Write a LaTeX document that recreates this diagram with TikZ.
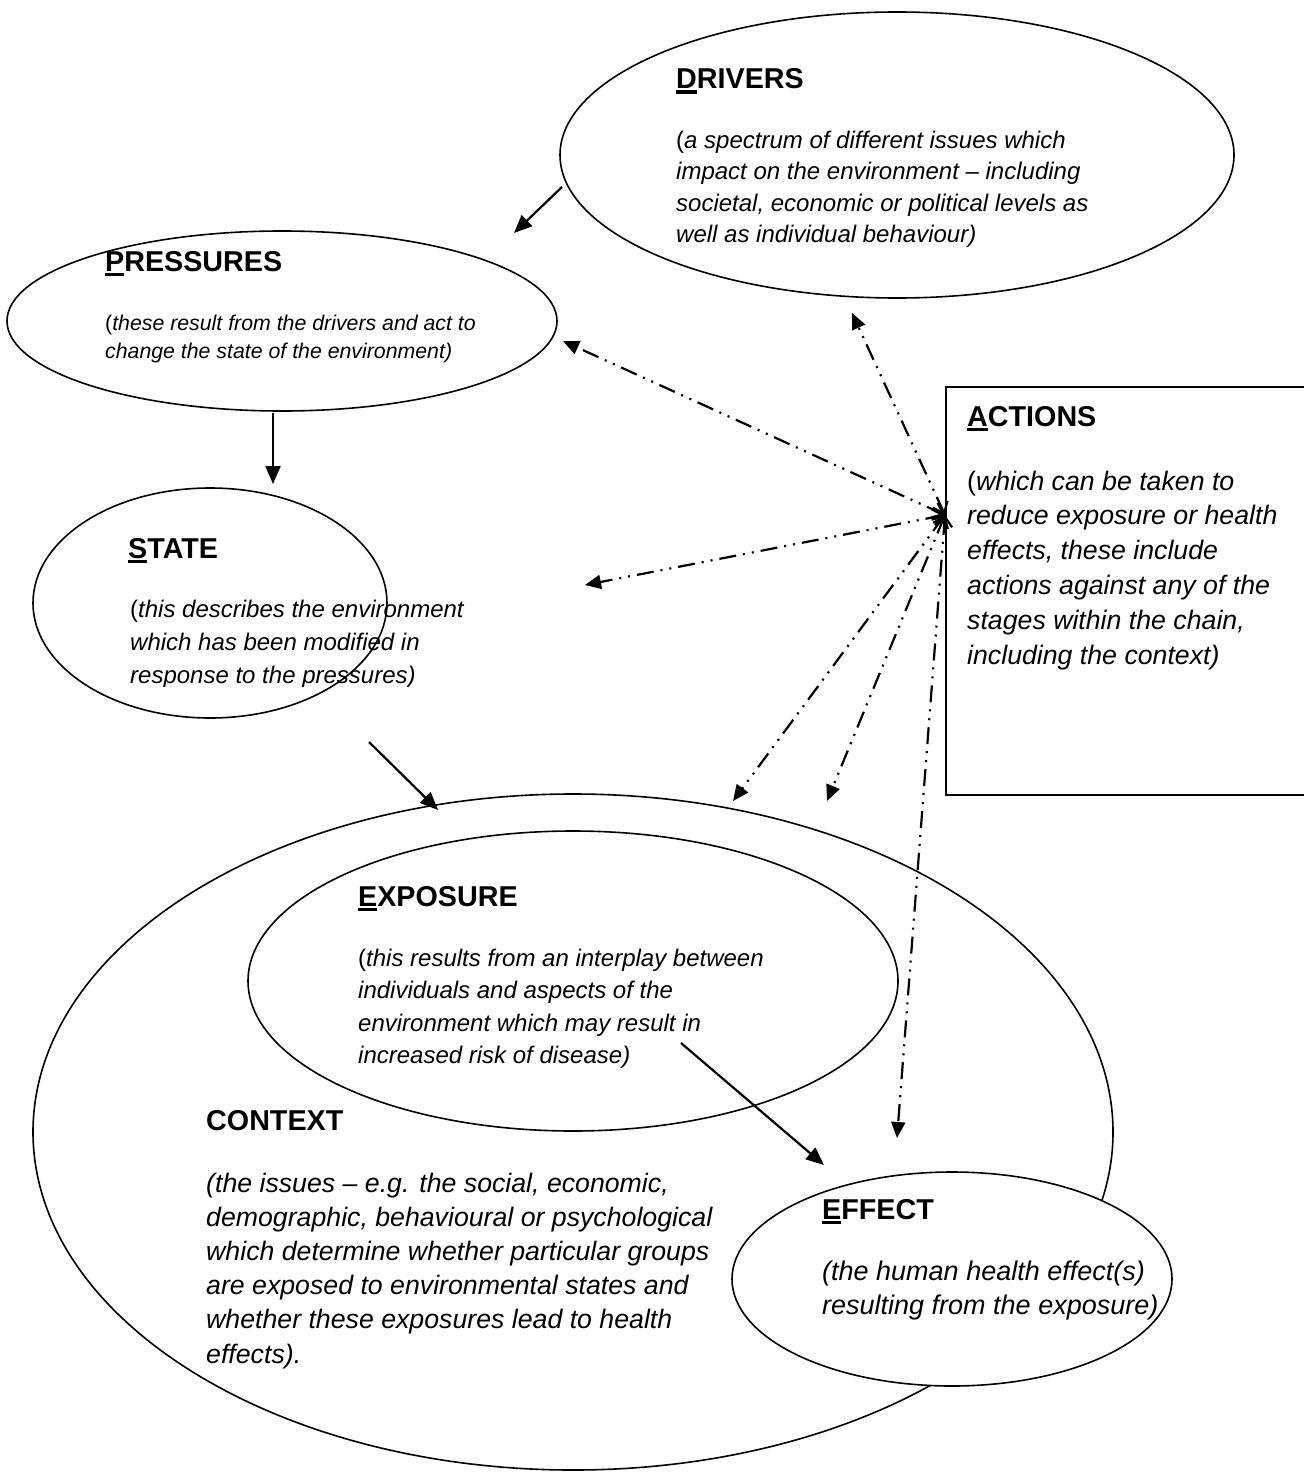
\documentclass[tikz,border=0pt]{standalone}
\usepackage{fontspec}
\setmainfont{Liberation Sans}
\usetikzlibrary{arrows.meta,shapes.geometric}
\newcommand\ulet[1]{\leavevmode\setbox0\hbox{#1}\rlap{\rule[-5pt]{\wd0}{3.5pt}}\box0}
\tikzset{
 ell/.style={draw, ellipse, line width=1.6pt, inner sep=0pt},
 ttl/.style={anchor=base west, inner sep=0pt, font=\fontsize{28.7}{34}\selectfont\bfseries},
 bodytxt/.style={anchor=base west, inner sep=0pt, align=left},
 flow/.style={line width=2.2pt, -{Triangle[length=18pt,width=15pt]}},
 actline/.style={line width=2.2pt, dash pattern=on 17pt off 7pt on 2pt off 7pt on 2pt off 7pt,
   {Straight Barb[length=10pt,width=16pt]}-{Triangle[length=16pt,width=14pt]}},
}
\begin{document}
\begin{tikzpicture}[x=1pt,y=-1pt]
\useasboundingbox (0,0) rectangle (1303,1474);

% shapes
\node[ell, minimum width=674pt, minimum height=286pt] (drv) at (897,155) {};
\node[ell, minimum width=550pt, minimum height=180pt] (prs) at (282,321) {};
\node[ell, minimum width=354pt, minimum height=230pt] (st) at (210,603) {};
\node[ell, minimum width=1080pt, minimum height=676pt] (ctx) at (573,1132) {};
\node[ell, minimum width=650pt, minimum height=300pt] (exp) at (573,981) {};
\node[ell, fill=white, minimum width=440pt, minimum height=214pt] (eff) at (952,1279) {};
\node[draw, line width=1.6pt, anchor=north west, minimum width=365pt, minimum height=408pt, inner sep=0pt] (act) at (945,386) {};

% texts (body nodes are anchored at the baseline of their last line)
\node[ttl] (drvT) at (676,89) {\ulet{D}RIVERS};
\node[bodytxt, font=\fontsize{24}{31.5}\selectfont\itshape] (drvB) at (676,242.5)
 {\textup{(}a spectrum of different issues which\\impact on the environment – including\\societal, economic or political levels as\\well as individual behaviour)};

\node[ttl] (prsT) at (105,271) {\ulet{P}RESSURES};
\node[bodytxt, font=\fontsize{21.3}{28}\selectfont\itshape] (prsB) at (105,358)
 {\textup{(}these result from the drivers and act to\\change the state of the environment)};

\node[ttl] (stT) at (128,558) {\ulet{S}TATE};
\begin{scope}
\clip (100,585) rectangle (500,686);
\node[bodytxt, font=\fontsize{24}{33}\selectfont\itshape] (stB) at (130,683)
 {\textup{(}this describes the environment\\which has been modified in\\response to the pressures)};
\end{scope}

\node[ttl] (actT) at (967,426) {\ulet{A}CTIONS};
\node[bodytxt, font=\fontsize{26.7}{34.8}\selectfont\itshape] (actB) at (967,664)
 {\textup{(}which can be taken to\\reduce exposure or health\\effects, these include\\actions against any of the\\stages within the chain,\\including the context)};

\node[ttl] (expT) at (358,906) {\ulet{E}XPOSURE};
\node[bodytxt, font=\fontsize{24}{32.5}\selectfont\itshape] (expB) at (358,1063.5)
 {\textup{(}this results from an interplay between\\individuals and aspects of the\\environment which may result in\\increased risk of disease)};

\node[ttl] (ctxT) at (206,1130) {CONTEXT};
\node[bodytxt, font=\fontsize{26.7}{34.2}\selectfont\itshape] (ctxB) at (206,1363)
 {(the issues – e.g. the social, economic,\\demographic, behavioural or psychological\\which determine whether particular groups\\are exposed to environmental states and\\whether these exposures lead to health\\effects).};

\node[ttl] (effT) at (822,1219) {\ulet{E}FFECT};
\node[bodytxt, font=\fontsize{27}{34}\selectfont\itshape] (effB) at (822,1314)
 {(the human health effect(s)\\resulting from the exposure)};

% connector end points
\coordinate (d2pA) at (562,187); \coordinate (d2pB) at (514,233);
\coordinate (p2sA) at (273,413); \coordinate (p2sB) at (273,484);
\coordinate (s2cA) at (369,742); \coordinate (s2cB) at (438,810);
\coordinate (e2fA) at (681,1043); \coordinate (e2fB) at (824,1165);
\coordinate (hub) at (945,515);
\coordinate (toP) at (563,341);
\coordinate (toD) at (852,313);
\coordinate (toS) at (585,585);
\coordinate (toC) at (733,801);
\coordinate (toX) at (827,801);
\coordinate (toF) at (897,1138);

\draw[flow] (d2pA) -- (d2pB);
\draw[flow] (p2sA) -- (p2sB);
\draw[flow] (s2cA) -- (s2cB);
\draw[flow] (e2fA) -- (e2fB);

\draw[actline] (hub) -- (toP);
\draw[actline] (hub) -- (toD);
\draw[actline] (hub) -- (toS);
\draw[actline] (hub) -- (toC);
\draw[actline] (hub) -- (toX);
\draw[actline] (hub) -- (toF);
\end{tikzpicture}
\end{document}
